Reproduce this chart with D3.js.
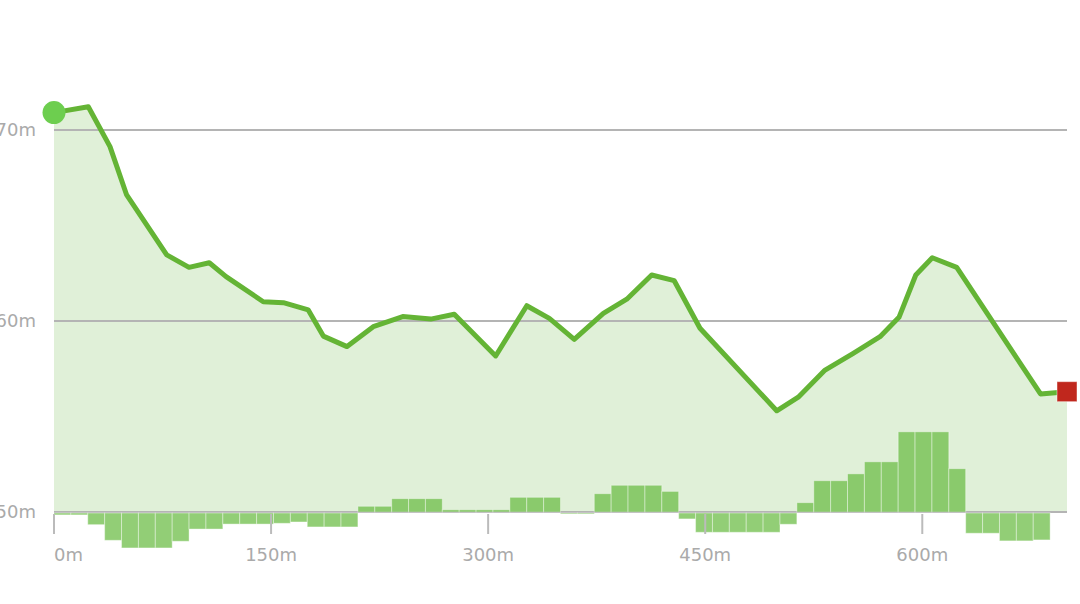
<!DOCTYPE html>
<html>
<head>
<meta charset="utf-8">
<script src="https://cdn.jsdelivr.net/npm/d3@7"></script>
<style>
  body { margin: 0; background: #fff; }
  svg { display: block; }
  text { font-family: "DejaVu Sans", sans-serif; fill: #aaa; }
</style>
</head>
<body>
<div id="chart-area"></div>
<script>
// profile points: distance (m) and elevation (m)
var distances = [0, 23.7, 38.7, 50.2, 77.9, 93.3, 107.3, 118.9, 144.6, 158.5, 175.7, 186.1,
  202.5, 220.6, 241.0, 260.3, 276.6, 305.2, 326.7, 342.3, 359.5, 379.6, 395.8, 413.0,
  428.6, 446.4, 499.4, 514.3, 532.8, 552.3, 570.8, 583.9, 595.5, 606.9, 623.8, 681.7, 700.0];
var elevations = [70.91, 71.22, 69.13, 66.60, 63.46, 62.81, 63.05, 62.32, 61.01, 60.96, 60.58, 59.21,
  58.66, 59.70, 60.23, 60.10, 60.35, 58.17, 60.80, 60.14, 59.04, 60.40, 61.14, 62.41,
  62.11, 59.62, 55.30, 56.01, 57.43, 58.31, 59.18, 60.19, 62.41, 63.31, 62.81, 56.18, 56.30];

// climb per segment (m), 60 even segments
var climbs = [-0.10, -0.10, -0.61, -1.43, -1.83, -1.83, -1.83, -1.48, -0.84, -0.84,
  -0.58, -0.58, -0.58, -0.54, -0.47, -0.73, -0.73, -0.73, 0.30, 0.30,
  0.70, 0.70, 0.70, 0.12, 0.12, 0.12, 0.12, 0.77, 0.77, 0.77,
  -0.05, -0.05, 0.96, 1.40, 1.40, 1.40, 1.08, -0.31, -1.01, -1.01,
  -1.01, -1.01, -1.01, -0.59, 0.49, 1.64, 1.64, 2.00, 2.63, 2.63,
  4.20, 4.20, 4.20, 2.27, -1.06, -1.06, -1.46, -1.46, -1.41, 0];

var yTicks = [50, 60, 70];
var xTicks = [0, 150, 300, 450, 600];

var width = 1080, height = 604;
var svg = d3.select("#chart-area").append("svg")
  .attr("width", width)
  .attr("height", height);

var x = d3.scaleLinear().domain([0, 700]).range([54, 1067]);
var y = d3.scaleLinear().domain([50, 70]).range([512, 130]);
var band = d3.scaleBand().domain(d3.range(climbs.length)).range([54, 1067]).padding(0);

var points = distances.map((d, i) => ({d: d, e: elevations[i]}));

// area under the profile
var area = d3.area()
  .x((p) => x(p.d))
  .y0(y(50))
  .y1((p) => y(p.e));
svg.append("path")
  .datum(points)
  .attr("d", area)
  .attr("fill", "#e0f0d8");

// grid lines
svg.append("g").selectAll("line").data(yTicks).enter()
  .append("line")
  .attr("x1", x(0))
  .attr("x2", x(700))
  .attr("y1", (d) => y(d))
  .attr("y2", (d) => y(d))
  .attr("stroke", "#b4b4b4")
  .attr("stroke-width", 2);

svg.append("g").selectAll("text").data(yTicks).enter()
  .append("text")
  .attr("x", 36)
  .attr("y", (d) => y(d))
  .attr("dy", "0.36em")
  .attr("text-anchor", "end")
  .attr("font-size", "18px")
  .text((d) => d + "m");

// climb bars
svg.append("g").selectAll("rect").data(climbs).enter()
  .append("rect")
  .attr("x", (d, i) => band(i))
  .attr("width", band.bandwidth())
  .attr("y", (d) => d > 0 ? y(50 + d) : y(50) + 1)
  .attr("height", (d) => Math.abs(y(50 + d) - y(50)))
  .attr("fill", "#6cbd46")
  .attr("fill-opacity", 0.74)
  .attr("stroke", "rgba(255,255,255,0.4)")
  .attr("stroke-width", 1);

// x axis ticks
var xAxis = svg.append("g");
xAxis.selectAll("line").data(xTicks).enter()
  .append("line")
  .attr("x1", (d) => x(d))
  .attr("x2", (d) => x(d))
  .attr("y1", 514)
  .attr("y2", 534)
  .attr("stroke", "#bbb")
  .attr("stroke-width", 2);
xAxis.selectAll("text").data(xTicks).enter()
  .append("text")
  .attr("x", (d) => x(d))
  .attr("y", 561)
  .attr("text-anchor", (d, i) => i == 0 ? "start" : "middle")
  .attr("font-size", "18px")
  .text((d) => d + "m");

// profile line
var line = d3.line()
  .x((p) => x(p.d))
  .y((p) => y(p.e));
svg.append("path")
  .datum(points)
  .attr("d", line)
  .attr("fill", "none")
  .attr("stroke", "#64b435")
  .attr("stroke-width", 5)
  .attr("stroke-linejoin", "round");

// start and end markers
var first = points[0], last = points[points.length - 1];
svg.append("circle")
  .attr("cx", x(first.d))
  .attr("cy", y(first.e))
  .attr("r", 11.5)
  .attr("fill", "#6dce4f");
svg.append("rect")
  .attr("x", x(last.d) - 10)
  .attr("y", y(last.e) - 10)
  .attr("width", 20)
  .attr("height", 20)
  .attr("fill", "#c0271d")
  .attr("stroke", "rgba(255,255,255,0.45)")
  .attr("stroke-width", 1);
</script>
</body>
</html>
